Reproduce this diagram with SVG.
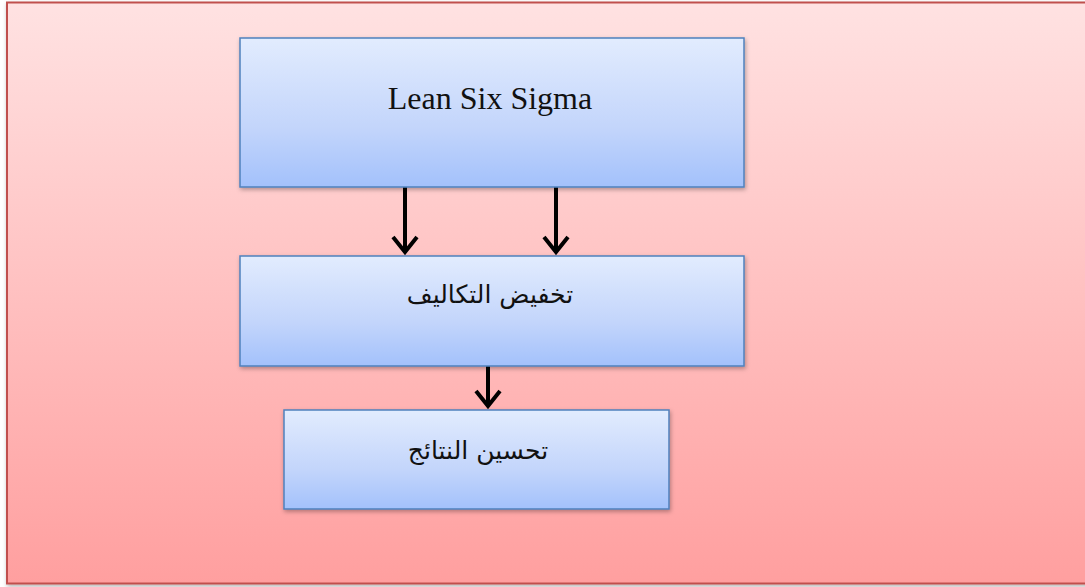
<svg xmlns="http://www.w3.org/2000/svg" width="1085" height="587" viewBox="0 0 1085 587">
<style>
.box{stroke:#4f81bd;stroke-width:1.5;fill:url(#gb);filter:url(#sh)}
.lat{font-family:"Liberation Serif",serif;font-size:32px;fill:#111}
.ar{font-family:"DejaVu Sans","Noto Sans",sans-serif;font-size:25px;fill:#111}
.conn{stroke:#000;stroke-width:4;fill:none}
.head{stroke:#000;stroke-width:4;fill:none;stroke-linecap:butt;stroke-linejoin:miter}
</style>
<defs>
<linearGradient id="gr" x1="0" y1="0" x2="0" y2="1">
<stop offset="0" stop-color="#ffe2e2"/><stop offset="1" stop-color="#ff9f9f"/>
</linearGradient>
<linearGradient id="gb" x1="0" y1="0" x2="0" y2="1">
<stop offset="0" stop-color="#e2ecfe"/><stop offset="0.6" stop-color="#c3d5fb"/><stop offset="1" stop-color="#a3c1fb"/>
</linearGradient>
<filter id="sh" x="-5%" y="-5%" width="110%" height="120%">
<feDropShadow dx="1" dy="2" stdDeviation="2" flood-color="#000" flood-opacity="0.3"/>
</filter>
</defs>
<rect x="0" y="0" width="1085" height="587" fill="#ffffff"/>
<g id="frame">
<rect x="7" y="2.5" width="1090" height="581" fill="url(#gr)" stroke="#c0504d" stroke-width="2" filter="url(#sh)"/>
</g>
<g id="connectors">
<line class="conn" x1="405" y1="187" x2="405" y2="251"/>
<polyline class="head" points="393,237 405,252 417,237"/>
<line class="conn" x1="556" y1="187" x2="556" y2="251"/>
<polyline class="head" points="544,237 556,252 568,237"/>
<line class="conn" x1="488" y1="366" x2="488" y2="405"/>
<polyline class="head" points="476,391 488,406 500,391"/>
</g>
<g id="n1">
<rect class="box" x="240" y="38" width="504" height="149"/>
<text class="lat" x="490" y="109" text-anchor="middle">Lean Six Sigma</text>
</g>
<g id="n2">
<rect class="box" x="240" y="256" width="504" height="110"/>
<text class="ar" x="490" y="303" text-anchor="middle" direction="rtl">تخفيض التكاليف</text>
</g>
<g id="n3">
<rect class="box" x="284" y="410" width="385" height="99"/>
<text class="ar" x="478" y="459" text-anchor="middle" direction="rtl">تحسين النتائج</text>
</g>
</svg>
